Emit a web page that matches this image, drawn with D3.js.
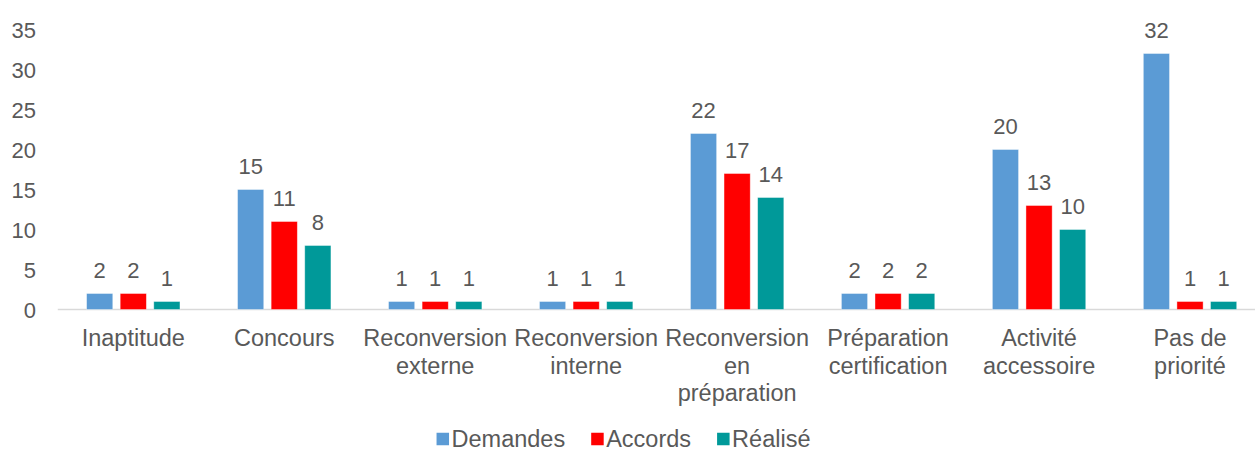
<!DOCTYPE html>
<html>
<head>
<meta charset="utf-8">
<script src="https://cdn.jsdelivr.net/npm/d3@7/dist/d3.min.js"></script>
<style>
  html, body { margin: 0; padding: 0; background: #fff; }
  svg { display: block; }
  text { font-family: "Liberation Sans", Arial, sans-serif; fill: #595959; }
</style>
</head>
<body>
<svg id="chart" width="1255" height="453"></svg>
<script>
const categories = [
  ["Inaptitude"],
  ["Concours"],
  ["Reconversion", "externe"],
  ["Reconversion", "interne"],
  ["Reconversion", "en", "préparation"],
  ["Préparation", "certification"],
  ["Activité", "accessoire"],
  ["Pas de", "priorité"]
];
const seriesNames = ["Demandes", "Accords", "Réalisé"];
const demandes = [2, 15, 1, 1, 22, 2, 20, 32];
const accords  = [2, 11, 1, 1, 17, 2, 13, 1];
const realise  = [1, 8, 1, 1, 14, 2, 10, 1];
const colors = ["#5B9BD5", "#FF0000", "#009999"];
const yTicks = [0, 5, 10, 15, 20, 25, 30, 35];

const seriesValues = [demandes, accords, realise];
const catKeys = categories.map(c => c.join(" "));

const svg = d3.select("#chart");
const numSize = 22;
const catSize = 23.5;
const legSize = 23.5;

const x = d3.scaleBand().domain(catKeys).range([57.8, 1265.5]).padding(0);
const xi = d3.scaleBand().domain(seriesNames).range([-46.7, 46.7]).paddingInner(0.22);
const y = d3.scaleLinear().domain([0, 35]).range([309.5, 29.5]);

// y-axis labels
const yAxis = d3.axisLeft(y).tickValues(yTicks).tickSize(0).tickPadding(0);
const gy = svg.append("g").attr("transform", "translate(36,0)").call(yAxis);
gy.select(".domain").remove();
gy.selectAll("text")
  .attr("font-family", "Liberation Sans, Arial, sans-serif")
  .attr("font-size", numSize)
  .attr("fill", "#595959")
  .attr("dy", "0.36em");

// baseline
svg.append("line")
  .attr("x1", 57.8).attr("x2", 1255)
  .attr("y1", y(0)).attr("y2", y(0))
  .attr("stroke", "#d9d9d9").attr("stroke-width", 1.3);

// bars
const groups = svg.append("g").selectAll("g")
  .data(catKeys)
  .join("g")
  .attr("transform", d => `translate(${x(d) + x.bandwidth() / 2},0)`);

groups.each(function(cat, ci) {
  const g = d3.select(this);
  seriesNames.forEach((s, si) => {
    const v = seriesValues[si][ci];
    g.append("rect")
      .attr("x", xi(s))
      .attr("width", xi.bandwidth())
      .attr("y", y(v))
      .attr("height", y(0) - y(v))
      .attr("fill", colors[si])
      .attr("stroke", "#ffffff")
      .attr("stroke-opacity", 0.5)
      .attr("stroke-width", 0.8);
    g.append("text")
      .attr("x", xi(s) + xi.bandwidth() / 2)
      .attr("y", y(v) - 16)
      .attr("text-anchor", "middle")
      .attr("font-size", numSize)
      .attr("fill", "#404040")
      .text(v);
  });
});

// category labels
const xAxisG = svg.append("g");
categories.forEach((lines, ci) => {
  const cx = x(catKeys[ci]) + x.bandwidth() / 2;
  const t = xAxisG.append("text")
    .attr("x", cx)
    .attr("y", 346)
    .attr("text-anchor", "middle")
    .attr("font-size", catSize)
    .attr("fill", "#595959");
  lines.forEach((ln, li) => {
    t.append("tspan").attr("x", cx).attr("dy", li === 0 ? 0 : 27.5).text(ln);
  });
});

// legend
const legend = svg.append("g");
const sq = 12.5, gapSqText = 2.5, gapItems = 26;
let cursor = 0;
seriesNames.forEach((name, i) => {
  const g = legend.append("g");
  g.append("rect").attr("x", 0).attr("y", -sq / 2).attr("width", sq).attr("height", sq).attr("fill", colors[i]);
  const t = g.append("text").attr("x", sq + gapSqText).attr("y", 0).attr("dy", "0.35em")
    .attr("font-size", legSize).attr("fill", "#595959").text(name);
  const w = sq + gapSqText + t.node().getComputedTextLength();
  g.attr("transform", `translate(${cursor},0)`);
  cursor += w + gapItems;
});
const totalW = cursor - gapItems;
legend.attr("transform", `translate(${623.5 - totalW / 2},439)`);
</script>
</body>
</html>
